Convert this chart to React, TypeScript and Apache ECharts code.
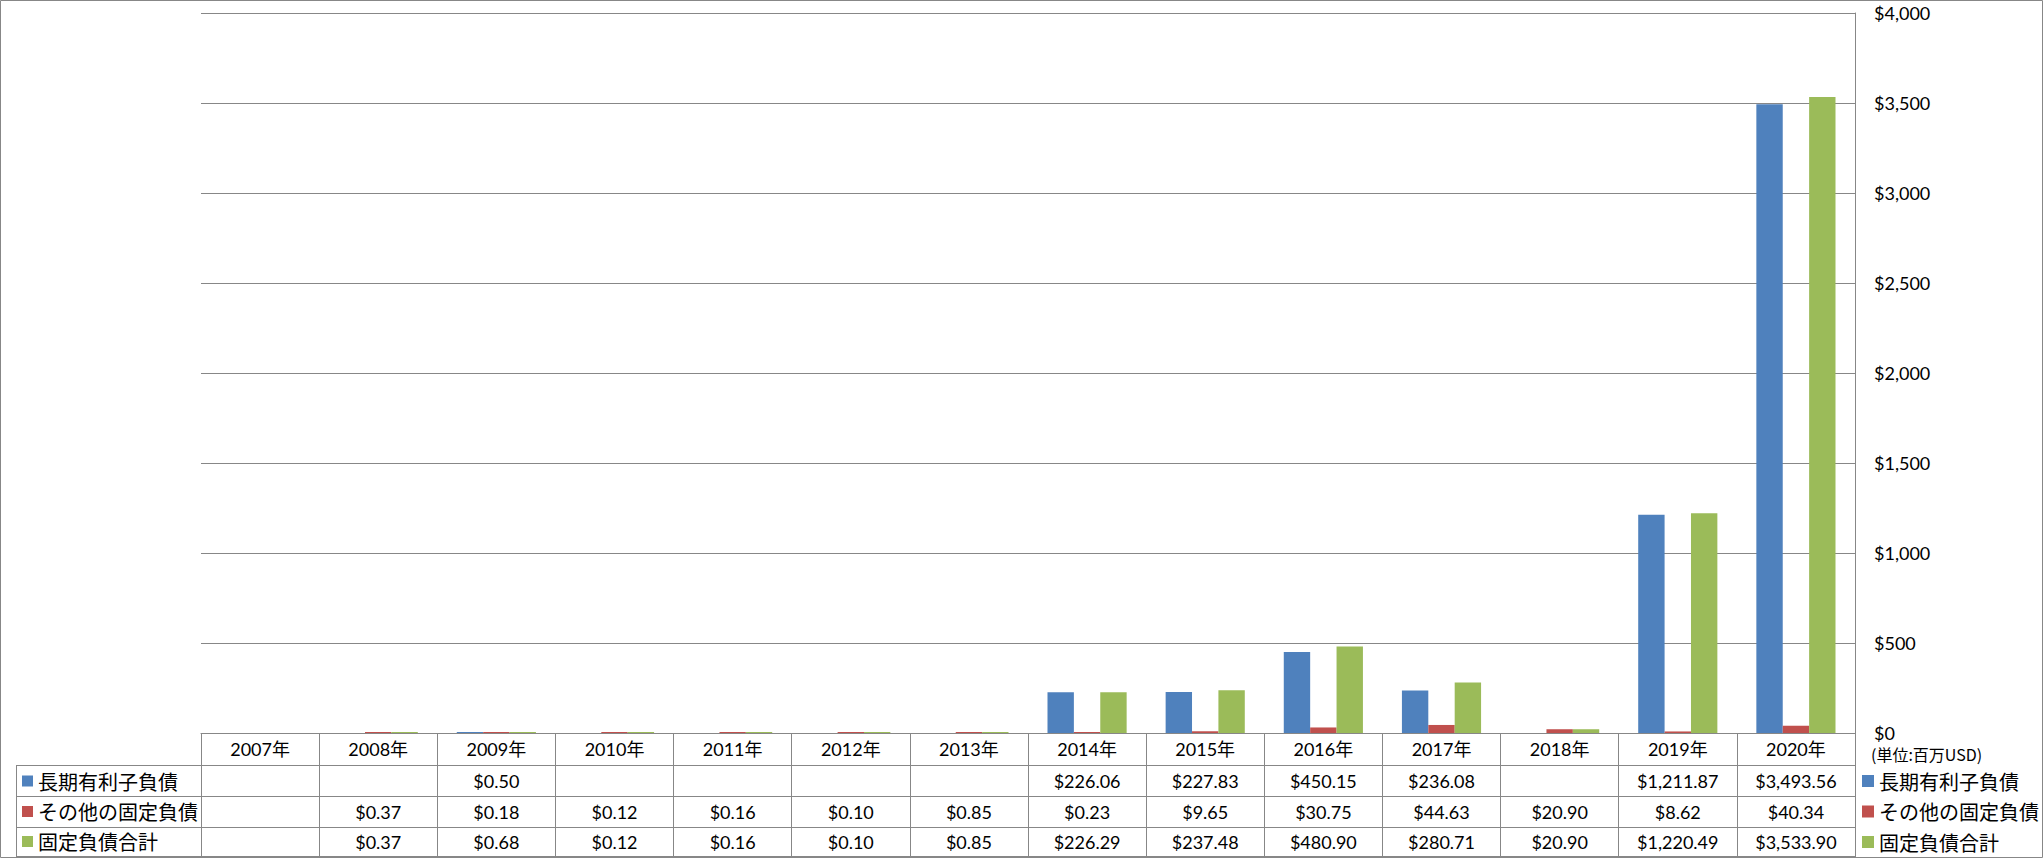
import React, { useEffect, useRef } from "react";
import * as echarts from "echarts";

const years = ["2007年", "2008年", "2009年", "2010年", "2011年", "2012年", "2013年", "2014年", "2015年", "2016年", "2017年", "2018年", "2019年", "2020年"];
const seriesNames = ["長期有利子負債", "その他の固定負債", "固定負債合計"];
const longTermDebt = [null, null, 0.5, null, null, null, null, 226.06, 227.83, 450.15, 236.08, null, 1211.87, 3493.56];
const otherFixed = [null, 0.37, 0.18, 0.12, 0.16, 0.1, 0.85, 0.23, 9.65, 30.75, 44.63, 20.9, 8.62, 40.34];
const totalFixed = [null, 0.37, 0.68, 0.12, 0.16, 0.1, 0.85, 226.29, 237.48, 480.9, 280.71, 20.9, 1220.49, 3533.9];
const colors = ["#4F81BD", "#C0504D", "#9BBB59"];
const unitLabel = "(単位:百万USD)";

const W = 2043;
const H = 858;
const LAT = "Lato, 'Noto Sans CJK JP', sans-serif";
const CJK = "'Noto Sans CJK JP', sans-serif";
const GRAY = "#878787";

const fmt = (v: number | null) =>
  v == null ? "" : "$" + v.toLocaleString("en-US", { minimumFractionDigits: 2, maximumFractionDigits: 2 });

export default function App() {
  const ref = useRef<HTMLDivElement>(null);
  useEffect(() => {
    if (!ref.current) return;
    const chart = echarts.init(ref.current, null, { renderer: "svg" });
    const rows = [longTermDebt, otherFixed, totalFixed];
    const rowCenters = [781, 811.5, 841.5];
    const rowAxes = rows.map((r, i) => ({
      type: "category",
      data: years,
      position: "bottom",
      gridIndex: 0,
      axisLine: { show: false },
      axisTick: { show: false },
      splitLine: { show: false },
      axisLabel: {
        interval: 0,
        margin: rowCenters[i] - 733,
        verticalAlign: "middle",
        fontSize: 18,
        fontFamily: LAT,
        color: "#000",
        formatter: (_v: string, idx: number) => fmt(r[idx]),
      },
    }));
    const graphics: any[] = [
      {
        type: "rect",
        shape: { x: 0.5, y: 0.5, width: W - 1, height: H - 1 },
        style: { fill: "none", stroke: GRAY, lineWidth: 1 },
        z: -1,
      },
      ...[765.5, 796.5, 827.5, 856.5].map((y) => ({
        type: "line",
        shape: { x1: 16, y1: y, x2: 1855, y2: y },
        style: { stroke: GRAY, lineWidth: 1 },
      })),
      {
        type: "line",
        shape: { x1: 16.5, y1: 765, x2: 16.5, y2: 857 },
        style: { stroke: GRAY, lineWidth: 1 },
      },
      {
        type: "text",
        x: 1871,
        y: 754,
        style: { text: unitLabel, fontSize: 16, fontFamily: CJK, fill: "#000", verticalAlign: "middle" },
      },
    ];
    seriesNames.forEach((n, i) => {
      graphics.push({
        type: "rect",
        shape: { x: 22, y: rowCenters[i] - 5.5, width: 11, height: 11 },
        style: { fill: colors[i] },
      });
      graphics.push({
        type: "text",
        x: 38,
        y: rowCenters[i],
        style: { text: n, fontSize: 20, fontFamily: CJK, fill: "#000", verticalAlign: "middle" },
      });
    });

    chart.setOption({
      animation: false,
      backgroundColor: "#fff",
      grid: { left: 201, right: W - 1855, top: 13, bottom: H - 733, containLabel: false },
      legend: {
        data: seriesNames,
        orient: "vertical",
        left: 1862,
        top: 771,
        padding: 0,
        itemWidth: 12,
        itemHeight: 12,
        itemGap: 10.5,
        icon: "rect",
        selectedMode: false,
        textStyle: { fontSize: 20, fontFamily: CJK, color: "#000" },
      },
      xAxis: [
        {
          type: "category",
          data: years,
          position: "bottom",
          axisLine: { show: true, lineStyle: { color: GRAY, width: 1 } },
          axisTick: { show: true, interval: 0, length: 124, lineStyle: { color: GRAY, width: 1 } },
          axisLabel: {
            interval: 0,
            margin: 16,
            verticalAlign: "middle",
            fontSize: 18,
            fontFamily: LAT,
            color: "#000",
          },
        },
        ...rowAxes,
      ],
      yAxis: {
        type: "value",
        position: "right",
        min: 0,
        max: 4000,
        interval: 500,
        axisLine: { show: true, lineStyle: { color: GRAY, width: 1 } },
        axisTick: { show: false },
        splitLine: { show: true, lineStyle: { color: GRAY, width: 1 } },
        axisLabel: {
          margin: 19,
          fontSize: 18,
          fontFamily: LAT,
          color: "#000",
          formatter: (v: number) => "$" + v.toLocaleString("en-US"),
        },
      },
      series: [longTermDebt, otherFixed, totalFixed].map((d, i) => ({
        type: "bar",
        name: seriesNames[i],
        data: d,
        xAxisIndex: 0,
        yAxisIndex: 0,
        barGap: "0%",
        barCategoryGap: "33%",
        barMinHeight: 1,
        itemStyle: { color: colors[i] },
      })),
      graphic: graphics,
    });
    return () => chart.dispose();
  }, []);
  return <div ref={ref} style={{ position: "absolute", left: 0, top: 0, width: W, height: H }} />;
}
